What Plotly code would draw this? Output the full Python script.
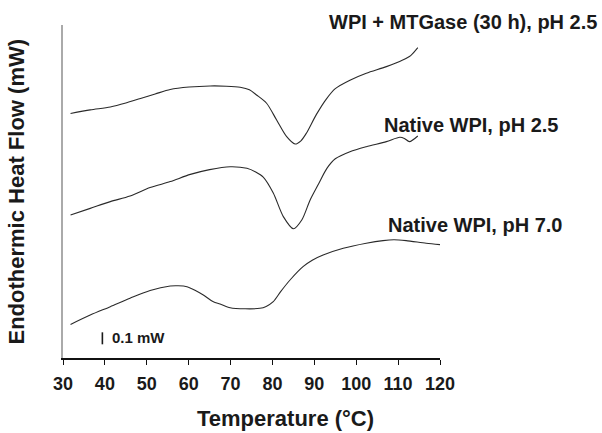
import plotly.graph_objects as go

# ---- data (temperature in °C, heat flow in mW, curves offset vertically) ----
temp_mtg = [31.8, 36.5, 41.3, 45.0, 48.5, 52.0, 55.6, 60.1, 65.1, 69.0, 72.3, 74.5, 76.2,
            78.6, 81.0, 83.4, 85.4, 86.8, 88.1, 90.5, 92.9, 95.0, 98.5, 102.4,
            107.2, 111.1, 113.0, 114.7]
hf_mtg = [2.038, 2.068, 2.092, 2.125, 2.163, 2.200, 2.238, 2.258, 2.267, 2.265, 2.256, 2.235,
          2.192, 2.123, 1.983, 1.844, 1.783, 1.810, 1.873, 2.030, 2.160, 2.245, 2.315,
          2.373, 2.428, 2.483, 2.520, 2.586]

temp_n25 = [31.8, 36.5, 41.3, 46.0, 50.8, 55.6, 60.4, 65.0, 69.9, 73.9, 76.0, 77.8, 80.2,
            82.6, 85.0, 87.0, 89.0, 91.0, 93.0, 95.0, 98.5, 102.4, 107.2, 110.4, 111.5,
            112.7, 114.7]
hf_n25 = [1.192, 1.247, 1.303, 1.350, 1.420, 1.470, 1.530, 1.570, 1.594, 1.581, 1.550, 1.508,
          1.375, 1.178, 1.077, 1.150, 1.317, 1.450, 1.580, 1.660, 1.719, 1.761, 1.803, 1.839,
          1.830, 1.803, 1.850]

temp_n70 = [31.8, 36.5, 41.3, 46.0, 50.8, 55.6, 57.5, 59.6, 61.5, 63.5, 65.9, 67.5, 69.9,
            73.5, 77.0, 78.5, 80.2, 82.0, 84.2, 87.3, 89.5, 92.1, 96.9, 102.4, 106.4,
            109.0, 111.9, 116.7, 120.0]
hf_n70 = [0.280, 0.358, 0.428, 0.498, 0.563, 0.600, 0.602, 0.594, 0.565, 0.525, 0.468, 0.450,
          0.419, 0.410, 0.414, 0.430, 0.469, 0.555, 0.650, 0.761, 0.815, 0.858, 0.914, 0.956,
          0.978, 0.985, 0.978, 0.956, 0.945]

series_names = ["WPI + MTGase (30 h), pH 2.5", "Native WPI, pH 2.5", "Native WPI, pH 7.0"]
label_x = [93.0, 106.2, 107.2]
label_y = [2.80, 1.94, 1.108]

scalebar_x = [39.4, 39.4]
scalebar_y = [0.114, 0.214]
scalebar_label = "0.1 mW"

x_ticks = [30, 40, 50, 60, 70, 80, 90, 100, 110, 120]

FONT = "Liberation Sans, Arial, Helvetica, sans-serif"
TXT = "#1a1a1a"
Y_MAX = 2.775

fig = go.Figure()
for t, h, name in [(temp_mtg, hf_mtg, series_names[0]),
                   (temp_n25, hf_n25, series_names[1]),
                   (temp_n70, hf_n70, series_names[2])]:
    fig.add_trace(go.Scatter(x=t, y=h, mode="lines", name=name,
                             line=dict(color="#2a2a2a", width=1.1, shape="spline", smoothing=0.8),
                             showlegend=False))

fig.add_trace(go.Scatter(x=scalebar_x, y=scalebar_y, mode="lines",
                         line=dict(color="#1a1a1a", width=1.6), showlegend=False,
                         hoverinfo="skip"))

for name, lx, ly in zip(series_names, label_x, label_y):
    fig.add_annotation(x=lx, y=ly / Y_MAX, xref="x", yref="paper", text=name, showarrow=False,
                       xanchor="left", yanchor="middle",
                       font=dict(family=FONT, size=20, color=TXT, weight="bold"))

fig.add_annotation(x=41.3, y=0.169, xref="x", yref="y", text=scalebar_label, showarrow=False,
                   xanchor="left", yanchor="middle",
                   font=dict(family=FONT, size=15, color=TXT, weight="bold"))

# axis titles as annotations for exact placement
fig.add_annotation(x=(285 - 63) / 377, y=0.0, xref="paper", yref="paper",
                   yshift=-60, text="Temperature (°C)", showarrow=False,
                   xanchor="center", yanchor="middle",
                   font=dict(family=FONT, size=22, color=TXT, weight="bold"))
fig.add_annotation(x=0, y=0.5, xref="paper", yref="paper", xshift=-47,
                   text="Endothermic Heat Flow (mW)", showarrow=False, textangle=-90,
                   xanchor="center", yanchor="middle",
                   font=dict(family=FONT, size=22, color=TXT, weight="bold"))

fig.update_xaxes(range=[30, 120], tickvals=x_ticks, ticktext=[str(v) for v in x_ticks],
                 showline=True, linecolor="#111111", linewidth=1.5,
                 ticks="outside", ticklen=5, tickwidth=1, tickcolor="#111111",
                 ticklabelstandoff=4,
                 showgrid=False, zeroline=False,
                 tickfont=dict(family=FONT, size=18, color=TXT, weight="bold"))
fig.update_yaxes(range=[0, Y_MAX], showline=True, linecolor="#aaaaaa", linewidth=2,
                 showticklabels=False, ticks="", showgrid=False, zeroline=False)

fig.update_layout(width=602, height=433,
                  margin=dict(l=63, r=162, t=25, b=75, autoexpand=False),
                  plot_bgcolor="white", paper_bgcolor="white")

fig.write_html("out.html", config={"displayModeBar": False},
               post_script="document.body.style.margin='0';document.body.style.overflow='hidden';")
